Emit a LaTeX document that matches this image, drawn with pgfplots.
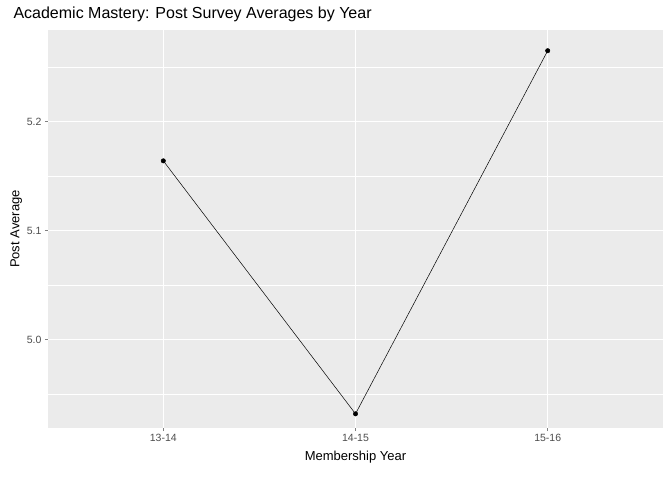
\documentclass[border=0pt]{standalone}
\usepackage{pgfplots}
\pgfplotsset{compat=1.18}
\usepackage{fontspec}
\setmainfont{Liberation Sans}
\definecolor{panel}{HTML}{EBEBEB}
\definecolor{tick}{HTML}{4D4D4D}
\begin{document}
\begin{tikzpicture}[x=1pt,y=1pt]
\begin{axis}[
  scale only axis, width=615pt, height=398pt,
  xmin=0.4, xmax=3.6, ymin=4.919, ymax=5.284,
  axis background/.style={fill=panel},
  axis line style={draw=none},
  xtick={1,2,3}, xticklabels={13-14,14-15,15-16},
  ytick={5.0,5.1,5.2},
  yticklabels={5.0,5.1,5.2},
  minor ytick={4.95,5.05,5.15,5.25},
  grid=both,
  major grid style={white, line width=1.1pt},
  minor grid style={white, line width=0.5pt},
  tick style={tick, line width=0.8pt},
  major tick length=3pt, minor tick length=0pt,
  tick align=outside, xtick pos=bottom, ytick pos=left,
  ticklabel style={font=\fontsize{10.5}{12}\selectfont, text=tick},
  xlabel={Membership Year}, ylabel={Post Average},
  label style={font=\fontsize{13}{15}\selectfont},
  xlabel style={yshift=-2pt}, ylabel style={yshift=-2pt},
  title={Academic Mastery: Post Survey Averages by Year},
  title style={font=\fontsize{16}{18}\selectfont, anchor=south west, at={(rel axis cs:0,1)}, xshift=-38pt, yshift=-1pt},
]
\addplot[black, line width=0.5pt, mark=*, mark size=2.2pt] coordinates {(1,5.164) (2,4.932) (3,5.265)};
\end{axis}
\pgfresetboundingbox
\path (current axis.south west) ++(-48pt,-52pt) rectangle ++(672pt,480pt);
\end{tikzpicture}
\end{document}
